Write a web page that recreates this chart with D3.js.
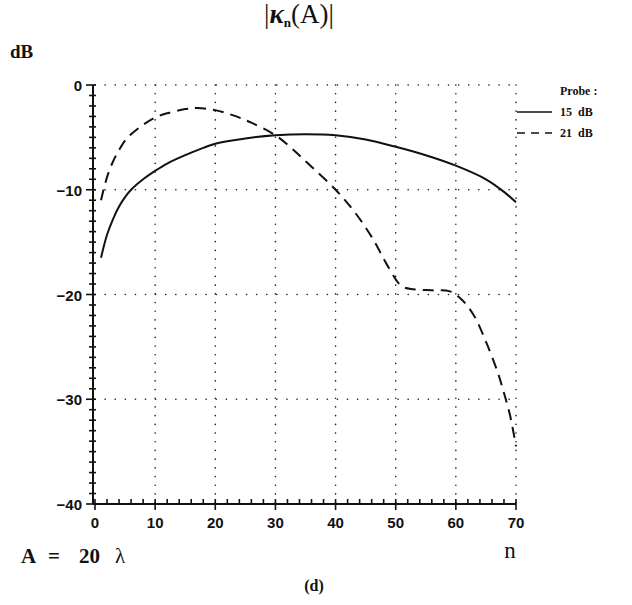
<!DOCTYPE html>
<html>
<head>
<meta charset="utf-8">
<script src="https://cdn.jsdelivr.net/npm/d3@7"></script>
<style>
  body { margin: 0; background: #fff; }
  svg { display: block; }
  .ticklab { font-family: "Liberation Sans", Arial, sans-serif; font-weight: bold; font-size: 15px; fill: #111; }
  .legend { font-family: "Liberation Serif", serif; font-weight: bold; font-size: 12px; fill: #111; }
</style>
</head>
<body>
<svg id="chart"></svg>
<script>
// values
var xTicks = [0, 10, 20, 30, 40, 50, 60, 70];
var yTicks = [0, -10, -20, -30, -40];

var nSolid = [1, 2, 3, 4, 5, 6, 8, 10, 12, 15, 18, 20, 25, 30, 35, 40, 45, 50, 55, 60, 65, 68, 70];
var dbSolid = [-16.5, -14.3, -12.8, -11.6, -10.7, -10.0, -9.0, -8.2, -7.5, -6.7, -6.0, -5.6, -5.1, -4.8, -4.7, -4.8, -5.2, -5.9, -6.7, -7.7, -9.0, -10.2, -11.2];

var nDash = [1, 2, 3, 4, 5, 6, 8, 10, 12, 15, 17, 20, 23, 26, 30, 33, 36, 40, 43, 46, 49, 51, 53, 56, 59, 61, 63, 65, 67, 68, 69, 70];
var dbDash = [-11, -8.8, -7.3, -6.2, -5.3, -4.7, -3.8, -3.1, -2.7, -2.3, -2.2, -2.4, -2.9, -3.6, -4.8, -6.2, -7.8, -10.0, -12.0, -14.5, -17.6, -19.2, -19.5, -19.6, -19.7, -20.5, -22.0, -24.5, -27.5, -29.4, -31.5, -34.5];

var legendLabels = ["15 dB", "21 dB"];

var W = 632, H = 605;
var svg = d3.select('#chart').attr('width', W).attr('height', H);

var x = d3.scaleLinear().domain([0, 70]).range([95, 516]);
var y = d3.scaleLinear().domain([-40, 0]).range([504, 85]);

// dotted grid
var grid = svg.append('g').attr('stroke', '#222').attr('stroke-width', 1.6)
    .attr('stroke-linecap', 'round').attr('fill', 'none');
xTicks.filter(function(d){ return d > 0; }).forEach(function(d){
    grid.append('line')
        .attr('x1', x(d)).attr('x2', x(d))
        .attr('y1', y(0)).attr('y2', y(-40))
        .attr('stroke-dasharray', '0.1,8.6');
});
yTicks.filter(function(d){ return d > -40; }).forEach(function(d){
    grid.append('line')
        .attr('x1', x(0)).attr('x2', x(70))
        .attr('y1', y(d)).attr('y2', y(d))
        .attr('stroke-dasharray', '0.1,10');
});

// y axis: line with minor ticks every 1 dB
var ax = svg.append('g').attr('stroke', '#111').attr('stroke-width', 1.6);
ax.append('line').attr('x1', x(0) - 2).attr('x2', x(0) - 2).attr('y1', y(0)).attr('y2', y(-40)).attr('stroke-width', 2);
d3.range(-40, 1, 1).forEach(function(d){
    var major = d % 10 == 0;
    ax.append('line')
        .attr('x1', x(0) - (major ? 9 : 6)).attr('x2', x(0) + 1)
        .attr('y1', y(d)).attr('y2', y(d));
});
// x axis: line with minor ticks every 2
ax.append('line').attr('x1', x(0) - 2).attr('x2', x(70)).attr('y1', y(-40)).attr('y2', y(-40)).attr('stroke-width', 2);
d3.range(0, 71, 2).forEach(function(d){
    var major = d % 10 == 0;
    ax.append('line')
        .attr('x1', x(d)).attr('x2', x(d))
        .attr('y1', y(-40) - 5).attr('y2', y(-40) + (major ? 6 : 0));
});

svg.append('g').selectAll('text').data(yTicks).join('text')
    .attr('class', 'ticklab')
    .attr('x', x(0) - 13).attr('y', function(d){ return y(d) + 6; })
    .attr('text-anchor', 'end')
    .text(function(d){ return d == 0 ? '0' : '\u2212' + Math.abs(d); });

svg.append('g').selectAll('text').data(xTicks).join('text')
    .attr('class', 'ticklab')
    .attr('x', function(d){ return x(d); }).attr('y', y(-40) + 24)
    .attr('text-anchor', 'middle')
    .text(function(d){ return d; });

// curves
var line = d3.line()
    .x(function(d){ return x(d[0]); })
    .y(function(d){ return y(d[1]); })
    .curve(d3.curveCatmullRom.alpha(0.5));

svg.append('path')
    .datum(d3.zip(nSolid, dbSolid))
    .attr('fill', 'none').attr('stroke', '#111').attr('stroke-width', 2)
    .attr('d', line);

svg.append('path')
    .datum(d3.zip(nDash, dbDash))
    .attr('fill', 'none').attr('stroke', '#111').attr('stroke-width', 2)
    .attr('stroke-dasharray', '11,7')
    .attr('d', line);

// legend
svg.append('text').attr('class', 'legend').attr('x', 560).attr('y', 95).text('Probe :');
var lg = svg.append('g');
legendLabels.forEach(function(l, i){
    var ly = 112 + i * 21;
    lg.append('line')
        .attr('x1', 517).attr('x2', 552).attr('y1', ly).attr('y2', ly)
        .attr('stroke', '#111').attr('stroke-width', 1.5)
        .attr('stroke-dasharray', i == 0 ? null : '8,6');
    lg.append('text').attr('class', 'legend').attr('x', 560).attr('y', ly + 4)
        .attr('xml:space', 'preserve').text(l.replace(' ', '  '));
});

// title and labels
var title = svg.append('text')
    .attr('x', 299).attr('y', 23)
    .attr('text-anchor', 'middle')
    .style('font-family', '"Liberation Serif", serif')
    .style('font-size', '27px').style('fill', '#111');
title.append('tspan').text('|');
title.append('tspan').style('font-style', 'italic').style('font-weight', 'bold').text('\u03ba');
title.append('tspan').attr('dy', 4).style('font-size', '13px').style('font-weight', 'bold').text('n');
title.append('tspan').attr('dy', -4).text('(A)|');

svg.append('text').attr('x', 10).attr('y', 58)
    .style('font-family', '"Liberation Serif", serif').style('font-size', '19px')
    .style('font-weight', 'bold').style('fill', '#111').text('dB');

svg.append('text').attr('x', 510).attr('y', 558)
    .attr('text-anchor', 'middle')
    .style('font-family', '"Liberation Serif", serif').style('font-size', '23px')
    .style('fill', '#111').text('n');

var aLab = svg.append('text').attr('y', 563)
    .style('font-family', '"Liberation Serif", serif').style('font-size', '21px')
    .style('font-weight', 'bold').style('fill', '#111');
aLab.append('tspan').attr('x', 21).text('A');
aLab.append('tspan').attr('x', 48).text('=');
aLab.append('tspan').attr('x', 79).text('20');
aLab.append('tspan').attr('x', 115).style('font-weight', 'normal').text('\u03bb');

svg.append('text').attr('x', 314).attr('y', 591)
    .attr('text-anchor', 'middle')
    .style('font-family', '"Liberation Serif", serif').style('font-size', '16px')
    .style('font-weight', 'bold').style('fill', '#111').text('(d)');
</script>
</body>
</html>
